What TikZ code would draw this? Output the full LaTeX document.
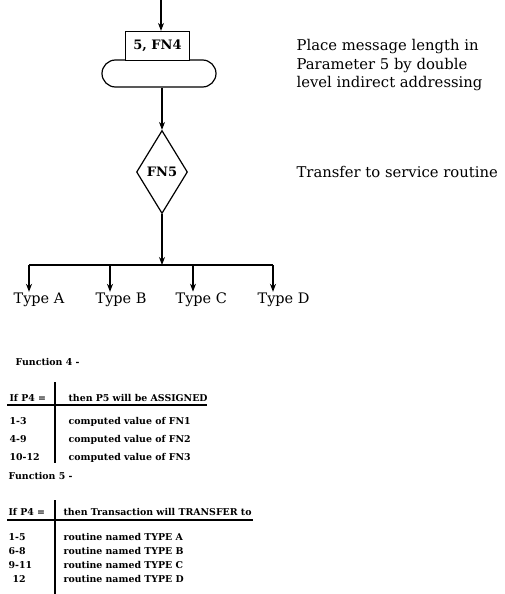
\documentclass[tikz,border=0pt]{standalone}
\usepackage{fontspec}
\setmainfont{DejaVu Serif}
\usetikzlibrary{shapes.geometric,arrows.meta}
\begin{document}
\begin{tikzpicture}[x=1pt,y=-1pt, line width=1.2pt,
  flow/.style={-{Stealth[length=8pt,width=6pt]}},
  big/.style={font=\fontsize{14.5}{19}\selectfont},
  side/.style={font=\fontsize{14.8}{18.5}\selectfont, align=left, inner sep=0},
  typ/.style={big, anchor=base west, inner sep=0},
  tab/.style={font=\bfseries\fontsize{9.4}{11}\selectfont, anchor=base west, inner sep=0},
  rule/.style={line width=1.3pt}
]
\useasboundingbox (0,0) rectangle (504,594);
% flowchart
\coordinate (top) at (161,0);
\node[draw, rectangle, rounded corners=13.5pt, minimum width=114pt, minimum height=27pt, inner sep=0] (stad) at (159,73.5) {};
\node[draw, fill=white, rectangle, minimum width=64pt, minimum height=29pt, inner sep=0, font=\fontsize{13}{15}\selectfont\bfseries] (box) at (157.5,46) {5,\ FN4};
\node[draw, diamond, aspect=0.6, minimum width=51pt, minimum height=83pt, inner sep=0, font=\fontsize{13}{15}\selectfont\bfseries] (fn5) at (162,172) {FN5};
\coordinate (bar) at (162,265);
\coordinate (barL) at (29,265);
\coordinate (barR) at (273,265);
\coordinate (barB) at (110,265);
\coordinate (barC) at (193,265);
\draw[flow] (top) -- (top |- box.north);
\draw[flow] (stad.south -| fn5.north) -- (fn5.north);
\draw[flow] (fn5.south) -- (bar);
\draw (barL) -- (barR);
\node[typ] (ta) at (13,303) {Type A};
\node[typ] (tb) at (95,303) {Type B};
\node[typ] (tc) at (175,303) {Type C};
\node[typ] (td) at (257,303) {Type D};
\draw[flow] (barL) -- (barL |- ta.north);
\draw[flow] (barB) -- (barB |- tb.north);
\draw[flow] (barC) -- (barC |- tc.north);
\draw[flow] (barR) -- (barR |- td.north);
\node[side, anchor=north west] (note1) at (296,39) {Place message length in\\Parameter 5 by double\\level indirect addressing};
\node[side, anchor=west] (note2) at (296,172) {Transfer to service routine};
% table 1
\node[tab] (f4) at (15,365) {Function 4 -};
\node[tab] (h1a) at (9,401) {If P4 =};
\node[tab] (h1b) at (68,401) {then P5 will be ASSIGNED};
\node[tab] (r1a) at (9,424) {1-3};
\node[tab] (r1b) at (68,424) {computed value of FN1};
\node[tab] (r2a) at (9,442) {4-9};
\node[tab] (r2b) at (68,442) {computed value of FN2};
\node[tab] (r3a) at (9,460) {10-12};
\node[tab] (r3b) at (68,460) {computed value of FN3};
\coordinate (t1l) at (7,405);
\coordinate (t1r) at (207,405);
\coordinate (t1t) at (55,382);
\coordinate (t1b) at (55,463);
\draw[rule] (t1l) -- (t1r);
\draw[rule] (t1t) -- (t1b);
% table 2
\node[tab] (f5) at (8,479) {Function 5 -};
\node[tab] (h2a) at (8,515) {If P4 =};
\node[tab] (h2b) at (63,515) {then Transaction will TRANSFER to};
\node[tab] (s1a) at (8,540) {1-5};
\node[tab] (s1b) at (63,540) {routine named TYPE A};
\node[tab] (s2a) at (8,554) {6-8};
\node[tab] (s2b) at (63,554) {routine named TYPE B};
\node[tab] (s3a) at (8,568) {9-11};
\node[tab] (s3b) at (63,568) {routine named TYPE C};
\node[tab] (s4a) at (12,582) {12};
\node[tab] (s4b) at (63,582) {routine named TYPE D};
\coordinate (t2l) at (7,520);
\coordinate (t2r) at (253,520);
\coordinate (t2t) at (55,500);
\coordinate (t2b) at (55,594);
\draw[rule] (t2l) -- (t2r);
\draw[rule] (t2t) -- (t2b);
\end{tikzpicture}
\end{document}
